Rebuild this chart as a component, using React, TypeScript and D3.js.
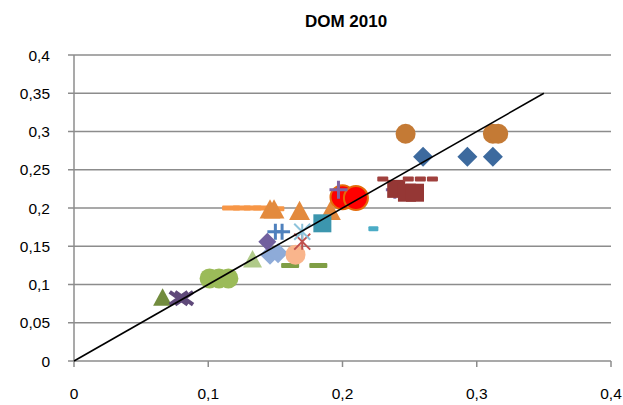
import * as d3 from "d3";

// each series: x values and y values
const blueDiamondX = [0.26, 0.293, 0.312];
const blueDiamondY = [0.267, 0.267, 0.267];
const darkRedSquareX = [0.24, 0.248, 0.254];
const darkRedSquareY = [0.225, 0.22, 0.22];
const orangeTriangleX = [0.146, 0.149, 0.168, 0.191];
const orangeTriangleY = [0.197, 0.197, 0.195, 0.195];
const purpleCrossX = [0.078, 0.082];
const purpleCrossY = [0.082, 0.082];
const lightBlueStarX = [0.17];
const lightBlueStarY = [0.169];
const orangeCircleX = [0.247, 0.312, 0.316];
const orangeCircleY = [0.297, 0.297, 0.297];
const purplePlusX = [0.197, 0.239];
const purplePlusY = [0.224, 0.224];
const darkRedDashX = [0.23, 0.249, 0.258, 0.267];
const darkRedDashY = [0.238, 0.238, 0.238, 0.238];
const tealSquareX = [0.185];
const tealSquareY = [0.18];
const tealDashX = [0.223];
const tealDashY = [0.173];
const redCircleX = [0.2, 0.21];
const redCircleY = [0.214, 0.213];
const orangeDashX = [0.117, 0.125, 0.133, 0.14, 0.15];
const orangeDashY = [0.2, 0.2, 0.2, 0.2, 0.199];
const bluePlusX = [0.15, 0.155];
const bluePlusY = [0.169, 0.169];
const redStarX = [0.17];
const redStarY = [0.156];
const purpleDiamondX = [0.144];
const purpleDiamondY = [0.156];
const paleBlueDiamondX = [0.146, 0.152];
const paleBlueDiamondY = [0.139, 0.141];
const paleGreenTriangleX = [0.133];
const paleGreenTriangleY = [0.132];
const peachCircleX = [0.165];
const peachCircleY = [0.139];
const oliveDashX = [0.161, 0.182];
const oliveDashY = [0.125, 0.125];
const greenCircleX = [0.101, 0.108, 0.115];
const greenCircleY = [0.108, 0.108, 0.108];
const darkGreenTriangleX = [0.066];
const darkGreenTriangleY = [0.082];

const xTicks = [0, 0.1, 0.2, 0.3, 0.4];
const yTicks = [0, 0.05, 0.1, 0.15, 0.2, 0.25, 0.3, 0.35, 0.4];
const refLine = [0, 0.35];

type Marker = "diamond" | "square" | "triangle" | "x" | "star" | "circle" | "plus" | "dash";

const series: { xs: number[]; ys: number[]; marker: Marker; color: string; size: number; stroke?: string }[] = [
  { xs: greenCircleX, ys: greenCircleY, marker: "circle", color: "#9BBB59", size: 20 },
  { xs: darkGreenTriangleX, ys: darkGreenTriangleY, marker: "triangle", color: "#728C3E", size: 20 },
  { xs: purpleCrossX, ys: purpleCrossY, marker: "x", color: "#5F497A", size: 18 },
  { xs: oliveDashX, ys: oliveDashY, marker: "dash", color: "#7F9E45", size: 18 },
  { xs: paleGreenTriangleX, ys: paleGreenTriangleY, marker: "triangle", color: "#B0CA89", size: 20 },
  { xs: paleBlueDiamondX, ys: paleBlueDiamondY, marker: "diamond", color: "#8EABD8", size: 20 },
  { xs: peachCircleX, ys: peachCircleY, marker: "circle", color: "#F9B58C", size: 20 },
  { xs: purpleDiamondX, ys: purpleDiamondY, marker: "diamond", color: "#72609E", size: 18 },
  { xs: redStarX, ys: redStarY, marker: "star", color: "#C0504D", size: 16 },
  { xs: bluePlusX, ys: bluePlusY, marker: "plus", color: "#4F81BD", size: 16 },
  { xs: lightBlueStarX, ys: lightBlueStarY, marker: "star", color: "#8DC3DB", size: 16 },
  { xs: orangeDashX, ys: orangeDashY, marker: "dash", color: "#F79646", size: 18 },
  { xs: orangeTriangleX, ys: orangeTriangleY, marker: "triangle", color: "#E38A3D", size: 22 },
  { xs: tealSquareX, ys: tealSquareY, marker: "square", color: "#3C96AE", size: 18 },
  { xs: tealDashX, ys: tealDashY, marker: "dash", color: "#4BACC6", size: 10 },
  { xs: redCircleX, ys: redCircleY, marker: "circle", color: "#FF0000", size: 24, stroke: "#E46C0A" },
  { xs: purplePlusX, ys: purplePlusY, marker: "plus", color: "#8064A2", size: 18 },
  { xs: darkRedSquareX, ys: darkRedSquareY, marker: "square", color: "#953735", size: 18 },
  { xs: darkRedDashX, ys: darkRedDashY, marker: "dash", color: "#A0403D", size: 11 },
  { xs: blueDiamondX, ys: blueDiamondY, marker: "diamond", color: "#3D6A9E", size: 20 },
  { xs: orangeCircleX, ys: orangeCircleY, marker: "circle", color: "#C47A35", size: 20 },
];

const width = 623;
const height = 405;
const margin = { left: 74, right: 12, top: 55, bottom: 44 };

const x = d3.scaleLinear().domain([0, 0.4]).range([margin.left, width - margin.right]);
const y = d3.scaleLinear().domain([0, 0.4]).range([height - margin.bottom, margin.top]);

const fmt = (v: number) => d3.format("~g")(+v.toFixed(2)).replace(".", ",");

function markerShape(m: Marker, s: number, color: string, stroke?: string) {
  const h = s / 2;
  switch (m) {
    case "circle":
      return <circle r={h} fill={color} stroke={stroke} strokeWidth={stroke ? 2 : 0} />;
    case "square":
      return <rect x={-h} y={-h} width={s} height={s} fill={color} />;
    case "diamond":
      return <path d={`M0,${-h}L${h},0L0,${h}L${-h},0Z`} fill={color} />;
    case "triangle":
      return <path d={`M0,${-h}L${h * 0.95},${h * 0.75}L${-h * 0.95},${h * 0.75}Z`} fill={color} />;
    case "dash":
      return <rect x={-h} y={-2.5} width={s} height={5} rx={1} fill={color} />;
    case "plus":
      return <path d={`M0,${-h}V${h}M${-h},0H${h}`} stroke={color} strokeWidth={3} fill="none" />;
    case "x":
      return (
        <path d={`M${-h},${-h * 0.7}L${h},${h * 0.7}M${-h},${h * 0.7}L${h},${-h * 0.7}`} stroke={color} strokeWidth={4} fill="none" />
      );
    case "star":
      return (
        <path d={`M${-h},${-h}L${h},${h}M${-h},${h}L${h},${-h}M0,${-h}V${h}`} stroke={color} strokeWidth={2} fill="none" />
      );
  }
}

export default function App() {
  const font = "'Liberation Sans', Arial, sans-serif";
  return (
    <svg width={width} height={height} style={{ position: "absolute", left: 0, top: 0, background: "#fff" }}>
      <text x={346} y={27} textAnchor="middle" fontFamily={font} fontWeight="bold" fontSize={17} fill="#000">
        DOM 2010
      </text>

      {/* gridlines and y ticks */}
      {yTicks.map((t) => (
        <g key={"y" + t}>
          <line x1={margin.left - 6} x2={t === 0 ? margin.left : x(0.4)} y1={y(t)} y2={y(t)} stroke="#8C8C8C" strokeWidth={1.5} />
          <text x={50} y={y(t) + 5.5} textAnchor="end" fontFamily={font} fontSize={15.5} fill="#000">
            {fmt(t)}
          </text>
        </g>
      ))}
      <line x1={margin.left} x2={x(0.4)} y1={y(0)} y2={y(0)} stroke="#8C8C8C" strokeWidth={1.5} />
      <line x1={margin.left} x2={margin.left} y1={y(0.4)} y2={y(0)} stroke="#8C8C8C" strokeWidth={1.5} />
      {xTicks.map((t) => (
        <g key={"x" + t}>
          <line x1={x(t)} x2={x(t)} y1={y(0)} y2={y(0) + 6} stroke="#8C8C8C" strokeWidth={1.5} />
          <text x={x(t)} y={399} textAnchor="middle" fontFamily={font} fontSize={15.5} fill="#000">
            {fmt(t)}
          </text>
        </g>
      ))}

      {series.map((s, i) => (
        <g key={"s" + i}>
          {s.xs.map((v, j) => (
            <g key={j} transform={`translate(${x(v)},${y(s.ys[j])})`}>
              {markerShape(s.marker, s.size, s.color, s.stroke)}
            </g>
          ))}
        </g>
      ))}

      <line x1={x(refLine[0])} y1={y(refLine[0])} x2={x(refLine[1])} y2={y(refLine[1])} stroke="#000" strokeWidth={1.6} />
    </svg>
  );
}
